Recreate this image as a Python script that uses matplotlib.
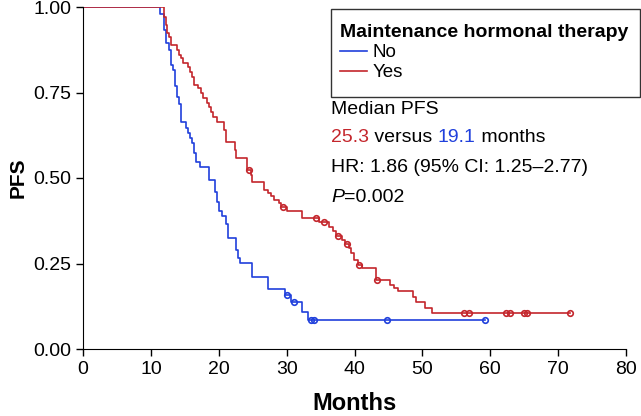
import matplotlib
matplotlib.use("Agg")
import matplotlib.pyplot as plt
from matplotlib.patches import Rectangle

plt.rcParams['font.family'] = ['Liberation Sans', 'DejaVu Sans']

# step curves: (months, PFS after the step)
no_t = [0, 11.4, 12.0, 12.3, 12.6, 12.9, 13.0, 13.2, 13.5, 13.6, 13.8, 13.9, 14.2, 14.4,
        14.5, 15.2, 15.5, 15.8, 16.1, 16.3, 16.4, 16.6, 17.3, 18.6, 19.4, 19.7, 19.8,
        20.1, 20.5, 21.0, 21.3, 22.6, 22.9, 23.2, 24.9, 27.2, 29.8, 30.7, 32.3, 33.2]
no_s = [1.0, 0.980, 0.933, 0.895, 0.874, 0.854, 0.830, 0.816, 0.792, 0.769, 0.751, 0.737,
        0.716, 0.699, 0.664, 0.646, 0.632, 0.617, 0.602, 0.588, 0.573, 0.547, 0.532, 0.494,
        0.459, 0.442, 0.430, 0.404, 0.389, 0.366, 0.325, 0.289, 0.266, 0.251, 0.211, 0.175,
        0.158, 0.137, 0.108, 0.085]
no_end = 59.3
no_cens_t = [30.0, 31.1, 33.6, 34.0, 44.8, 59.3]
no_cens_s = [0.158, 0.137, 0.085, 0.085, 0.085, 0.085]

yes_t = [0, 12.0, 12.2, 12.4, 12.7, 13.0, 13.8, 14.2, 14.5, 14.7, 15.4, 15.8, 16.1, 16.4,
         16.9, 17.4, 17.7, 18.2, 18.5, 18.9, 19.2, 19.7, 20.7, 21.1, 22.4, 22.6, 24.1,
         24.8, 24.9, 26.6, 27.2, 27.7, 28.2, 28.9, 29.2, 30.1, 32.2, 34.8, 36.3, 36.9,
         37.3, 38.2, 38.6, 39.2, 39.5, 39.9, 40.5, 41.1, 43.2, 45.2, 45.8, 46.4, 48.6,
         49.1, 50.4, 51.4]
yes_s = [1.0, 0.971, 0.947, 0.924, 0.912, 0.889, 0.874, 0.860, 0.851, 0.836, 0.825, 0.810,
         0.795, 0.772, 0.763, 0.749, 0.734, 0.719, 0.708, 0.693, 0.678, 0.664, 0.640, 0.605,
         0.582, 0.558, 0.523, 0.509, 0.488, 0.465, 0.456, 0.447, 0.436, 0.427, 0.415, 0.403,
         0.383, 0.371, 0.357, 0.345, 0.330, 0.319, 0.307, 0.295, 0.281, 0.260, 0.246, 0.237,
         0.202, 0.187, 0.178, 0.170, 0.152, 0.137, 0.120, 0.105]
yes_end = 71.7
yes_cens_t = [24.4, 29.5, 34.4, 35.5, 37.6, 38.9, 40.7, 43.3,
              56.2, 56.8, 62.3, 62.9, 64.9, 65.4, 71.7]
yes_cens_s = [0.523, 0.415, 0.383, 0.371, 0.330, 0.307, 0.246, 0.202,
              0.105, 0.105, 0.105, 0.105, 0.105, 0.105, 0.105]

blue = '#2040dc'
red = '#c4262c'

fig = plt.figure(figsize=(6.41, 4.16), dpi=100)
ax = fig.add_axes([83 / 641, 67 / 416, 543 / 641, 342 / 416])

l_no, = ax.step(no_t + [no_end], no_s + [no_s[-1]], where='post', color=blue, lw=1.2, label='No')
l_yes, = ax.step(yes_t + [yes_end], yes_s + [yes_s[-1]], where='post', color=red, lw=1.2, label='Yes')
ax.plot(no_cens_t, no_cens_s, 'o', ms=4, mfc='none', mec=blue, mew=1.2)
ax.plot(yes_cens_t, yes_cens_s, 'o', ms=4, mfc='none', mec=red, mew=1.2)

ax.set_xlim(0, 80)
ax.set_ylim(0, 1.0)
ax.set_xticks(range(0, 81, 10))
ax.set_yticks([0, 0.25, 0.5, 0.75, 1.0])
ax.set_yticklabels(['0.00', '0.25', '0.50', '0.75', '1.00'])
for s in ['top', 'right']:
    ax.spines[s].set_visible(False)
ax.tick_params(direction='out', length=5, width=1, labelsize=14)
ax.set_xlabel('Months', fontsize=17, fontweight='bold', labelpad=10)
ax.set_ylabel('PFS', fontsize=15, fontweight='bold', labelpad=4)


def fy(py):
    return 1 - py / 416


# legend box drawn by hand so the padding can match
fig.patches.append(Rectangle((331 / 641, fy(97)), 309 / 641, 88 / 416, transform=fig.transFigure,
                             fill=False, edgecolor='#333333', lw=1.0))
ax.legend(handles=[l_no, l_yes], title='Maintenance hormonal therapy',
          loc='upper left', bbox_to_anchor=(331 / 641, fy(15)),
          bbox_transform=fig.transFigure, borderaxespad=0, frameon=False,
          fontsize=13.5, title_fontproperties={'weight': 'bold', 'size': 14},
          alignment='left', handlelength=1.4, handletextpad=0.3,
          labelspacing=0.15, borderpad=0.5)

fx = 331 / 641
fs = 14
fig.text(fx, fy(109), 'Median PFS', fontsize=fs, va='center')
t1 = fig.text(fx, fy(137), '25.3', fontsize=fs, va='center', color=red)
a2 = ax.annotate(' versus ', xy=(1, 0.5), xycoords=t1, va='center', ha='left', fontsize=fs)
a3 = ax.annotate('19.1', xy=(1, 0.5), xycoords=a2, va='center', ha='left', fontsize=fs, color=blue)
ax.annotate(' months', xy=(1, 0.5), xycoords=a3, va='center', ha='left', fontsize=fs)
fig.text(fx, fy(167), 'HR: 1.86 (95% CI: 1.25\u20132.77)', fontsize=fs, va='center')
p = fig.text(fx, fy(197), 'P', fontsize=fs, va='center', style='italic')
ax.annotate('=0.002', xy=(1, 0.5), xycoords=p, va='center', ha='left', fontsize=fs)

fig.savefig('out.png', dpi=100)
